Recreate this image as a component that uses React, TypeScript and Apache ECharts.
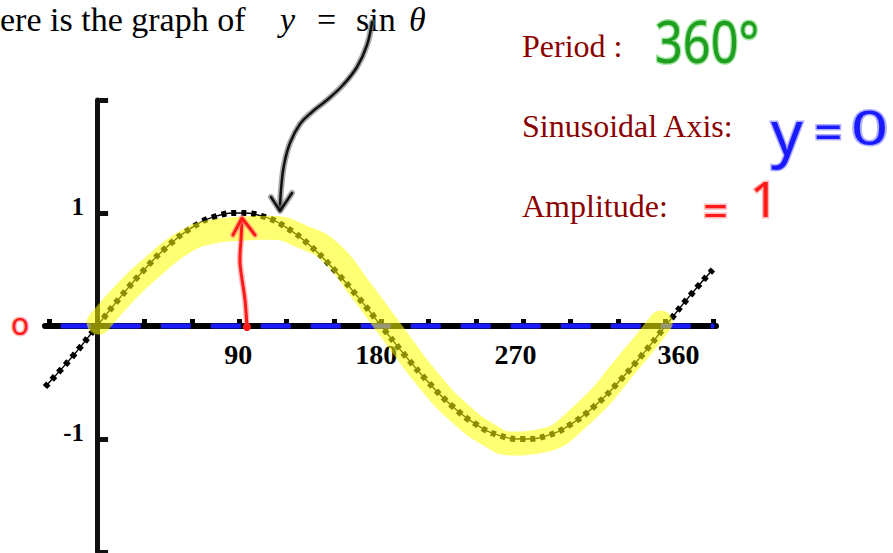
import React, { useEffect, useRef } from "react";
import * as echarts from "echarts";

// black dotted graph of y = sin θ (degrees, value)
const sineDegrees = [-33, -15, 0, 15, 30, 45, 60, 75, 90, 105, 120, 135, 150, 165, 180, 195, 210, 225, 240, 255, 270, 285, 300, 315, 330, 345, 360, 375, 390];
const sineValues = [-0.54, -0.26, 0, 0.26, 0.5, 0.71, 0.87, 0.97, 1, 0.97, 0.87, 0.71, 0.5, 0.26, 0, -0.26, -0.5, -0.71, -0.87, -0.97, -1, -0.97, -0.87, -0.71, -0.5, -0.26, 0, 0.26, 0.5];

// yellow hand-drawn highlight over one period
const highlightDegrees = [1, 20, 34, 55, 75, 90, 110, 130, 148, 167, 184, 211, 232, 249, 262, 280, 306, 338, 357];
const highlightValues = [0.03, 0.33, 0.51, 0.74, 0.84, 0.86, 0.87, 0.79, 0.65, 0.32, 0, -0.5, -0.8, -0.97, -1.04, -1.02, -0.8, -0.3, 0.03];

// blue dashed sinusoidal axis y = 0
const axisGuideDegrees = [-23, 391];
const axisGuideValues = [0, 0];

const xTickValues = [-30, 0, 30, 60, 90, 120, 150, 180, 210, 240, 270, 300, 330, 360, 390];
const xLabelValues = [90, 180, 270, 360];
const yTickValues = [-2, -1, 1, 2];
const yLabelValues = [-1, 1];

const X_MIN = -33;
const X_MAX = 392;
const Y_MIN = -2;
const Y_MAX = 2;

const zip = (a: number[], b: number[]) => a.map((v, i) => [v, b[i]]);

const SERIF = '"Liberation Serif", "Times New Roman", serif';
const HAND = '"Noto Sans", "DejaVu Sans", sans-serif';

function handText(text: string, x: number, y: number, size: number, fill: string, halo: string, scaleX = 1) {
  return {
    type: "text",
    x,
    y,
    scaleX,
    z: 20,
    style: {
      text,
      x: 0,
      y: 0,
      fontSize: size,
      fontFamily: HAND,
      fill,
      stroke: halo,
      lineWidth: 3,
      align: "left",
      verticalAlign: "middle",
    },
  };
}

function serifText(text: string, x: number, y: number, size: number, fill: string, italic = false) {
  return {
    type: "text",
    x,
    y,
    z: 20,
    style: {
      text,
      x: 0,
      y: 0,
      fontSize: size,
      fontFamily: SERIF,
      fontStyle: italic ? "italic" : "normal",
      fill,
      align: "left",
      verticalAlign: "middle",
    },
  };
}

function stroke(points: number[][], color: string, width: number, smooth = 0) {
  return {
    type: "polyline",
    z: 20,
    shape: { points, smooth },
    style: { stroke: color, lineWidth: width, fill: null, lineCap: "round", lineJoin: "round" },
  };
}

export default function App() {
  const ref = useRef<HTMLDivElement>(null);

  useEffect(() => {
    if (!ref.current) return;
    const chart = echarts.init(ref.current, null, { renderer: "svg" });

    const labelRich: any = {};
    const pads: Record<number, number[]> = {
      90: [0, 2, 0, 0],
      180: [0, 10, 0, 0],
      270: [0, 16, 0, 0],
      360: [0, 0, 0, 26],
    };
    xLabelValues.forEach((v) => {
      labelRich["l" + v] = {
        fontFamily: SERIF,
        fontWeight: "bold",
        fontSize: 28,
        color: "#000",
        padding: pads[v],
      };
    });

    const arrowPts = [
      [372, 22], [367, 45], [357, 67], [343, 85], [327, 100], [312, 112],
      [300, 124], [290, 143], [284, 165], [281, 190], [280, 209],
    ];
    const arrowHead = [[271, 197], [280, 211], [292, 193]];
    const redShaft = [[247, 327], [245, 300], [240, 263], [241, 240], [242, 220]];
    const redHead = [[233, 235], [242, 218], [255, 235]];

    chart.setOption({
      animation: false,
      grid: {
        left: 45,
        top: 100,
        width: 671,
        height: 452,
        containLabel: false,
        outerBoundsMode: "none",
      },
      xAxis: [
        {
          type: "value",
          min: X_MIN,
          max: X_MAX,
          axisLine: { onZero: true, lineStyle: { color: "#000", width: 6 } },
          axisTick: {
            show: true,
            inside: true,
            length: 7,
            customValues: xTickValues,
            lineStyle: { color: "#000", width: 5 },
          },
          axisLabel: { show: false },
          splitLine: { show: false },
        },
        {
          // label-only axis, moved up onto the y = 0 line
          type: "value",
          min: X_MIN,
          max: X_MAX,
          position: "bottom",
          offset: -226,
          axisLine: { show: false, onZero: false },
          axisTick: { show: false },
          splitLine: { show: false },
          axisLabel: {
            customValues: xLabelValues,
            margin: 14,
            formatter: (v: number) => `{l${v}|${v}}`,
            rich: labelRich,
            fontFamily: SERIF,
            fontWeight: "bold",
            fontSize: 28,
            color: "#000",
          },
        },
      ],
      yAxis: [
        {
          type: "value",
          min: Y_MIN,
          max: Y_MAX,
          axisLine: { onZero: true, lineStyle: { color: "#111", width: 5 } },
          axisTick: {
            show: true,
            inside: true,
            length: 11,
            customValues: yTickValues,
            lineStyle: { color: "#111", width: 5 },
          },
          axisLabel: { show: false },
          splitLine: { show: false },
        },
        {
          // label-only axis, moved right onto the θ = 0 line
          type: "value",
          min: Y_MIN,
          max: Y_MAX,
          position: "left",
          offset: -52,
          axisLine: { show: false, onZero: false },
          axisTick: { show: false },
          splitLine: { show: false },
          axisLabel: {
            customValues: yLabelValues,
            margin: 13,
            formatter: (v: number) => `{a|${v}}`,
            rich: {
              a: {
                fontFamily: SERIF,
                fontWeight: "bold",
                fontSize: 25,
                color: "#000",
                padding: [0, 0, 14, 0],
              },
            },
            fontFamily: SERIF,
            fontWeight: "bold",
            fontSize: 25,
            color: "#000",
          },
        },
      ],
      series: [
        {
          type: "line",
          data: zip(sineDegrees, sineValues),
          smooth: true,
          showSymbol: false,
          silent: true,
          z: 2,
          lineStyle: { color: "#000", width: 1.5 },
        },
        {
          type: "line",
          data: zip(sineDegrees, sineValues),
          smooth: true,
          showSymbol: false,
          silent: true,
          z: 2,
          lineStyle: { color: "#000", width: 6, type: [5, 5], cap: "butt" },
        },
        {
          type: "line",
          data: zip(axisGuideDegrees, axisGuideValues),
          showSymbol: false,
          silent: true,
          z: 3,
          lineStyle: { color: "#1a1aff", width: 5, type: [30, 20], cap: "butt" },
        },
        {
          type: "line",
          data: zip(highlightDegrees, highlightValues),
          smooth: true,
          showSymbol: false,
          silent: true,
          z: 4,
          lineStyle: { color: "rgba(255,255,0,0.55)", width: 24, cap: "round", join: "round" },
        },
      ],
      graphic: [
        // title line
        serifText("ere is the graph of", 0, 19, 34, "#000"),
        serifText("y", 280, 19, 34, "#000", true),
        serifText("=", 317, 19, 34, "#000"),
        serifText("sin", 356, 19, 34, "#000"),
        serifText("θ", 409, 19, 34, "#000", true),
        // right side labels
        serifText("Period :", 522, 46, 32, "#8b0000"),
        serifText("Sinusoidal Axis:", 522, 126, 32, "#8b0000"),
        serifText("Amplitude:", 522, 206, 32, "#8b0000"),
        // handwritten answers
        handText("360°", 655, 41, 58, "#1f9f1f", "rgba(90,210,90,0.55)", 0.84),
        handText("y", 771, 131, 62, "#1a1aff", "rgba(110,110,255,0.55)"),
        handText("=", 814, 131, 50, "#1a1aff", "rgba(110,110,255,0.55)"),
        handText("0", 851, 126, 48, "#1a1aff", "rgba(110,110,255,0.55)", 1.35),
        handText("=", 703, 210, 44, "#ff1a1a", "rgba(255,120,120,0.5)"),
        handText("1", 750, 198, 50, "#ff1a1a", "rgba(255,120,120,0.5)"),
        handText("o", 11, 323, 30, "#ff1a1a", "rgba(255,120,120,0.5)"),
        // black hand-drawn arrow
        stroke(arrowPts, "rgba(110,110,110,0.6)", 6, 0.4),
        stroke(arrowPts, "#111", 2.5, 0.4),
        stroke(arrowHead, "rgba(110,110,110,0.6)", 6),
        stroke(arrowHead, "#111", 2.5),
        // red amplitude arrow
        stroke(redShaft, "rgba(255,120,120,0.5)", 6, 0.3),
        stroke(redShaft, "#ff1a1a", 3, 0.3),
        stroke(redHead, "rgba(255,120,120,0.5)", 6),
        stroke(redHead, "#ff1a1a", 3),
        {
          type: "circle",
          z: 21,
          shape: { cx: 247, cy: 327, r: 4 },
          style: { fill: "#ff1a1a" },
        },
      ],
    });

    return () => chart.dispose();
  }, []);

  return (
    <div
      ref={ref}
      style={{ position: "absolute", left: 0, top: 0, width: 893, height: 553, background: "#fff" }}
    />
  );
}
